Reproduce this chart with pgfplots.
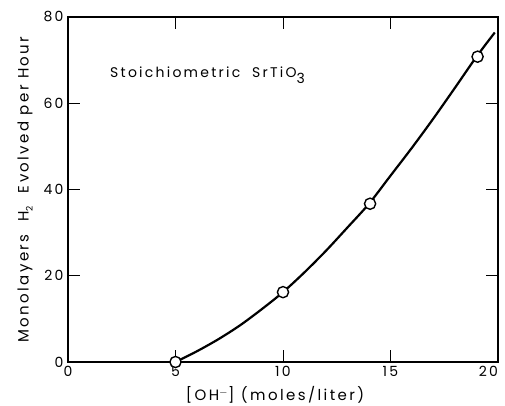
\documentclass[border=0pt]{standalone}
\usepackage{fontspec}
\setmainfont{Poppins}[LetterSpace=16]
\usepackage{pgfplots}
\pgfplotsset{compat=1.18}

\begin{document}
\begin{tikzpicture}
  % fix the page to the reference's frame around the axis box
  \path[use as bounding box] (-68pt,-44pt) rectangle (437pt,362pt);
  \begin{axis}[
    scale only axis,
    width = 430pt, height = 345pt,
    xmin = 0, xmax = 20,
    ymin = 0, ymax = 80,
    xtick = {0,5,...,20},
    xticklabels = {0,5,10,15,\makebox[0pt][r]{20}\hspace{2pt}},
    ytick = {0,20,...,80},
    tick align = inside,
    major tick length = 12pt,
    every tick/.style = {draw=black, line width=1pt},
    axis line style = {line width=1.7pt},
    every tick label/.append style = {font=\fontsize{14}{16}\selectfont},
    /pgf/number format/assume math mode = true,
    xticklabel style = {yshift=-1pt},
    yticklabel style = {xshift=-1pt},
    xlabel = {[OH$^{-}$] (moles/liter)},
    ylabel = {Monolayers \ H\raisebox{-0.5ex}{\small 2} \ Evolved per Hour},
    label style = {font=\fontsize{15}{17}\selectfont},
    xlabel style = {yshift=-3pt, xshift=-8pt},
    ylabel style = {yshift=4pt},
  ]
    % drawn curve through the measurements
    \addplot[black, line width=2.2pt, smooth, tension=0.5] coordinates {
      (5,0)(6,2.5)(7,5.3)(8,8.5)(9,12.2)(10,16.2)(11,20.8)(12,25.8)
      (13,31.2)(14,36.7)(15,43.2)(16,49.7)(17,56.5)(18,63.6)(19,70.8)(19.85,76.4)
    };
    % measured points
    \addplot[only marks, mark=*, mark size=5.6pt,
      mark options={fill=white, draw=black, line width=1.4pt}] coordinates {
      (5,0)(10,16.2)(14.05,36.7)(19.05,70.8)
    };
    \node[anchor=west, font=\fontsize{14}{16}\selectfont]
      at (axis cs:1.8,66.5) {Stoichiometric \ SrTiO\raisebox{-0.7ex}{3}};
  \end{axis}
\end{tikzpicture}
\end{document}
